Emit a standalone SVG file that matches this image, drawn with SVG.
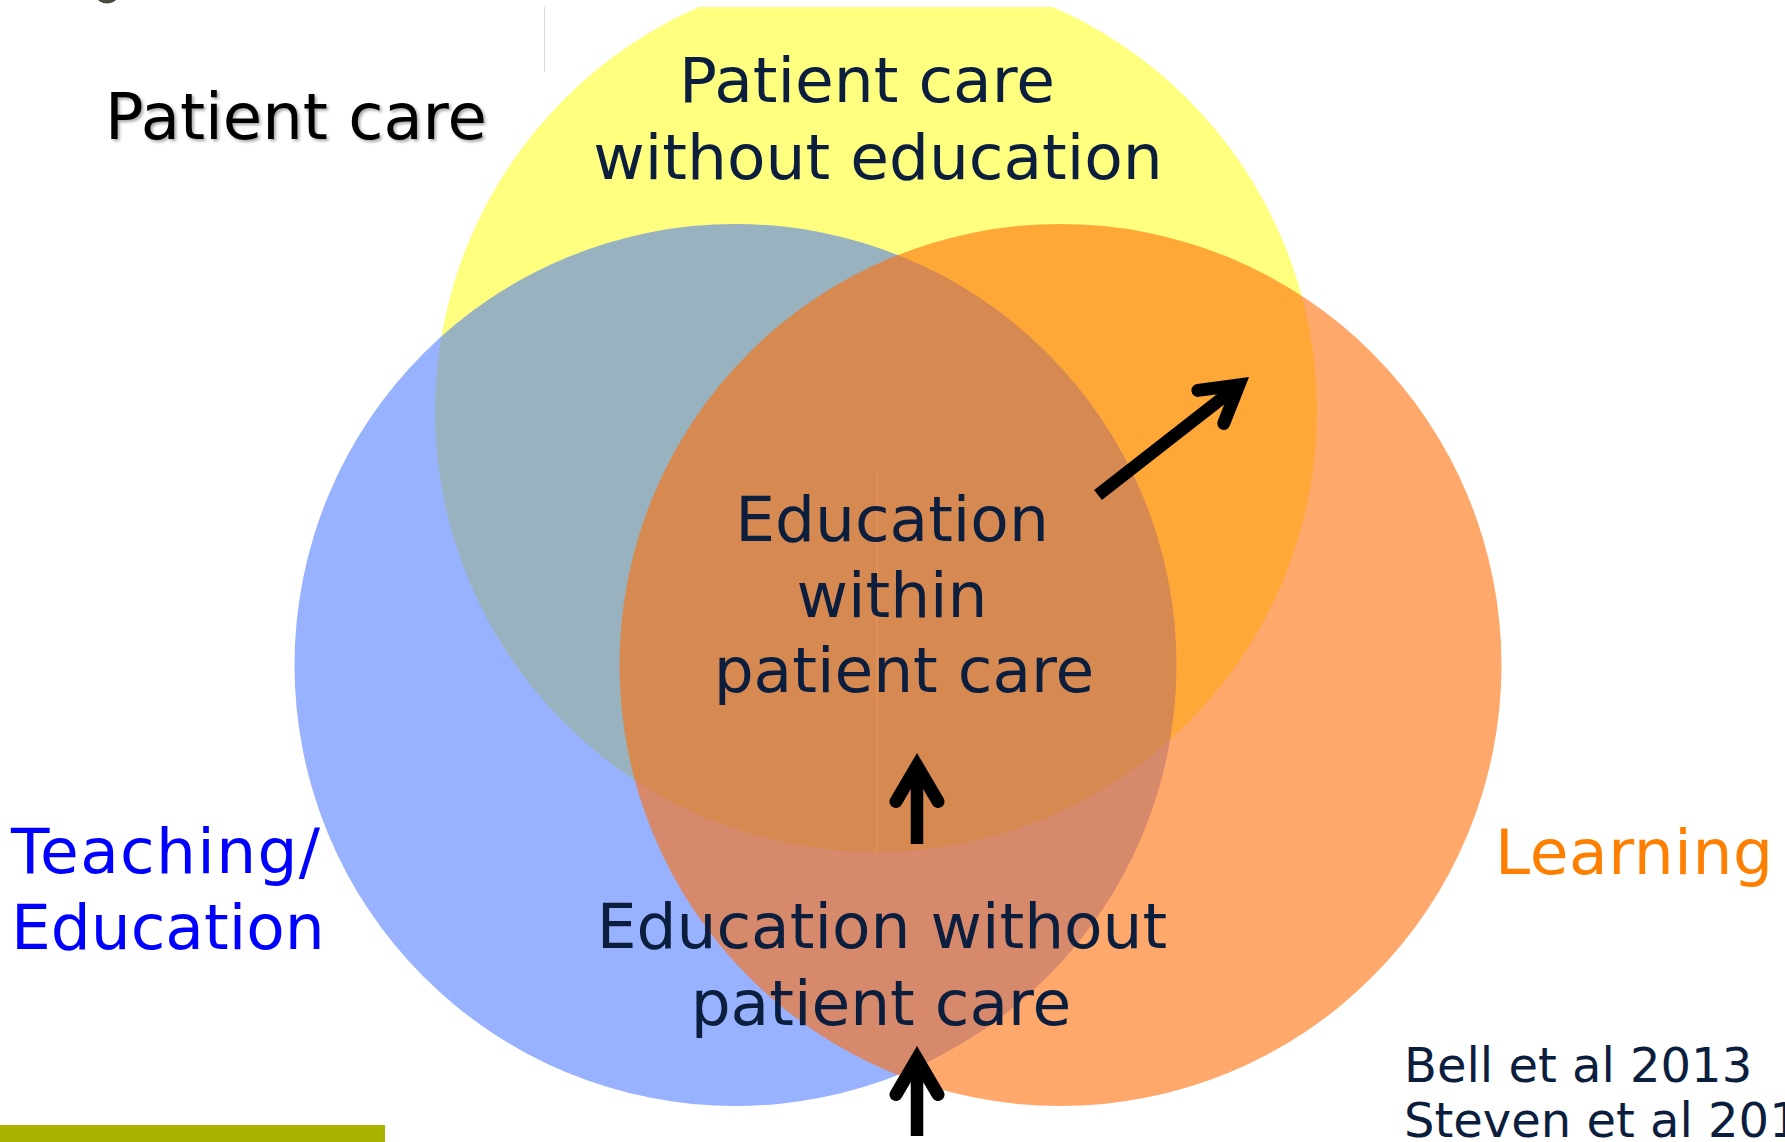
<svg xmlns="http://www.w3.org/2000/svg" width="1785" height="1142" viewBox="0 0 1785 1142">
  <style>
    .t { font-family: "DejaVu Sans", Verdana, sans-serif; font-size: 63px; fill: #0B1E3E; }
    .ref { font-family: "DejaVu Sans", Verdana, sans-serif; font-size: 48px; fill: #0B1E3E; }
    .arrow { stroke: #000; stroke-width: 12.5; fill: none; marker-end: url(#head); }
  </style>
  <defs>
    <clipPath id="slide"><rect x="0" y="7" width="1785" height="1135"/></clipPath>
    <marker id="head" markerUnits="userSpaceOnUse" orient="auto" refX="-14" refY="0" markerWidth="1" markerHeight="1" overflow="visible">
      <path d="M-48.5,-21 L-12.8,0 L-48.5,21" fill="none" stroke="#000" stroke-width="13" stroke-linecap="round" stroke-linejoin="miter" stroke-miterlimit="10"/>
    </marker>
    <filter id="shadow" x="-5%" y="-20%" width="110%" height="150%">
      <feDropShadow dx="2" dy="2" stdDeviation="1.5" flood-color="#000" flood-opacity="0.35"/>
    </filter>
  </defs>
  <rect width="1785" height="1142" fill="#fff"/>
  <ellipse cx="107" cy="-3" rx="10" ry="6.5" fill="#4A4A3C"/>
  <line x1="544.5" y1="7" x2="544.5" y2="72" stroke="#D9D9D9" stroke-width="1"/>
  <rect x="0" y="1125" width="385" height="17" fill="#AAB300"/>

  <g id="patient-care-circle">
    <circle cx="876" cy="411" r="441" fill="#FFFF00" fill-opacity="0.5" clip-path="url(#slide)"/>
  </g>
  <g id="teaching-circle">
    <circle cx="735.5" cy="665" r="441" fill="#3366FF" fill-opacity="0.5"/>
  </g>
  <g id="learning-circle">
    <circle cx="1060.5" cy="665" r="441" fill="rgb(255,110,8)" fill-opacity="0.6"/>
  </g>
  <line x1="877" y1="470" x2="877" y2="852" stroke="#EC9A5E" stroke-width="1.5" stroke-opacity="0.6"/>

  <g id="label-patient-care">
    <text x="105" y="139" class="t" style="fill:#000;font-size:64px" filter="url(#shadow)">Patient care</text>
  </g>
  <g id="label-pc-without-ed">
    <text x="867" y="102" class="t" text-anchor="middle">Patient care</text>
    <text x="878" y="179" class="t" text-anchor="middle">without education</text>
  </g>
  <g id="label-ed-within-pc">
    <text x="892" y="541" class="t" text-anchor="middle">Education</text>
    <text x="892" y="617" class="t" text-anchor="middle">within</text>
    <text x="904" y="692" class="t" text-anchor="middle">patient care</text>
  </g>
  <g id="label-ed-without-pc">
    <text x="882" y="948" class="t" text-anchor="middle">Education without</text>
    <text x="881" y="1025" class="t" text-anchor="middle">patient care</text>
  </g>
  <g id="label-teaching">
    <text x="11" y="873" class="t" style="fill:#0000FF" textLength="309" lengthAdjust="spacing">Teaching/</text>
    <text x="11" y="949" class="t" style="fill:#0000FF">Education</text>
  </g>
  <g id="label-learning">
    <text x="1495" y="874" class="t" style="fill:#FF8000" textLength="278" lengthAdjust="spacing">Learning</text>
  </g>
  <g id="references">
    <text x="1404" y="1082" class="ref">Bell et al 2013</text>
    <text x="1404" y="1137" class="ref">Steven et al 201</text>
  </g>

  <g id="connectors">
    <line class="arrow" x1="917" y1="844" x2="917" y2="767"/>
    <line class="arrow" x1="917" y1="1136" x2="917" y2="1060"/>
    <line class="arrow" x1="1098" y1="495" x2="1238" y2="385.7"/>
  </g>
</svg>
